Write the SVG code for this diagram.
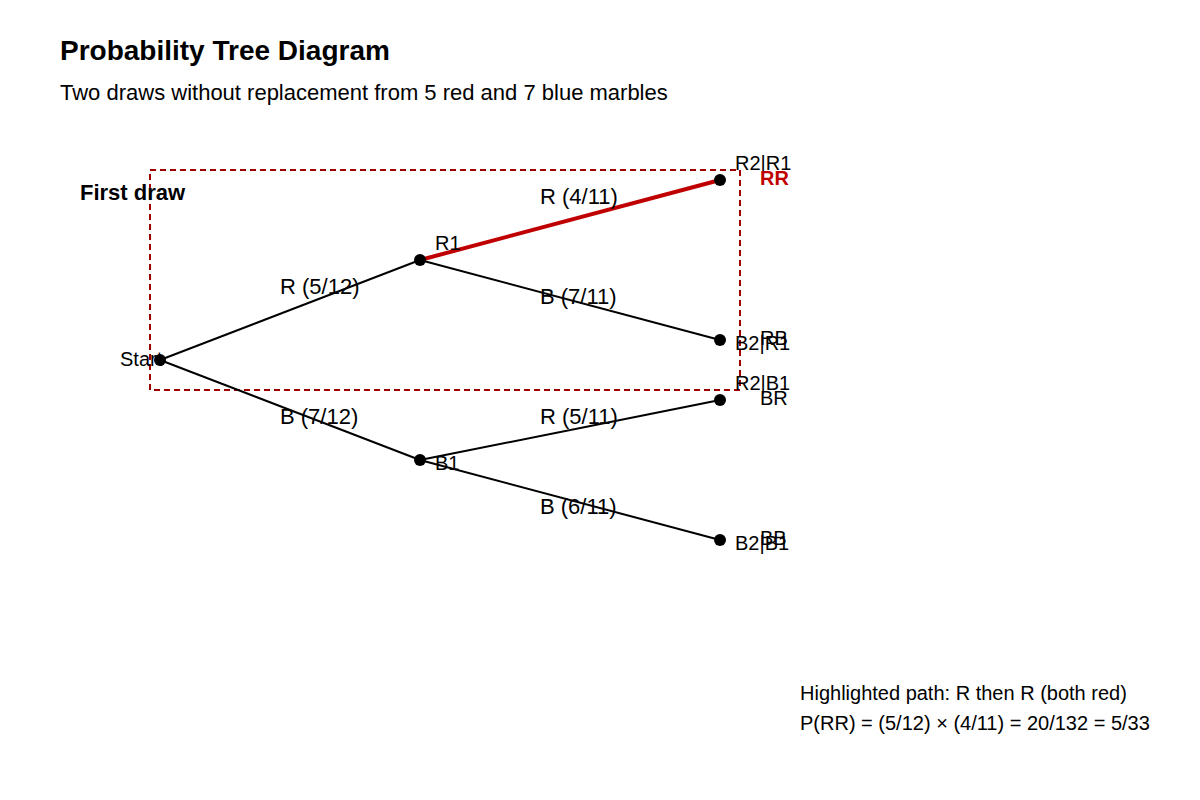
<svg xmlns="http://www.w3.org/2000/svg" width="1200" height="800" viewBox="0 0 1200 800">
<style>
text{font-family:"Liberation Sans",Arial,sans-serif;fill:#000}
.title{font-size:28px;font-weight:bold}
.sub{font-size:22px}
.lbl{font-size:20px}
.edge{font-size:22px}
.note{font-size:20px}
.e{stroke:#000;stroke-width:2;fill:none}
.hl{stroke:#c00000;stroke-width:4;fill:none}
.dot{fill:#000}
</style>
<rect width="1200" height="800" fill="#fff"/>
<text class="title" x="60" y="60">Probability Tree Diagram</text>
<text class="sub" x="60" y="100">Two draws without replacement from 5 red and 7 blue marbles</text>
<rect x="150" y="170" width="590" height="220" fill="none" stroke="#a00000" stroke-width="2" stroke-dasharray="6,4"/>
<text x="80" y="200" style="font-size:22px;font-weight:bold">First draw</text>
<g id="connectors">
<line class="e" x1="160" y1="360" x2="420" y2="260"/>
<line class="e" x1="160" y1="360" x2="420" y2="460"/>
<line class="hl" x1="420" y1="260" x2="720" y2="180"/>
<line class="e" x1="420" y1="260" x2="720" y2="340"/>
<line class="e" x1="420" y1="460" x2="720" y2="400"/>
<line class="e" x1="420" y1="460" x2="720" y2="540"/>
<text class="edge" x="280" y="294">R (5/12)</text>
<text class="edge" x="280" y="424">B (7/12)</text>
<text class="edge" x="540" y="204">R (4/11)</text>
<text class="edge" x="540" y="304">B (7/11)</text>
<text class="edge" x="540" y="424">R (5/11)</text>
<text class="edge" x="540" y="514">B (6/11)</text>
</g>
<g id="start"><circle class="dot" cx="160" cy="360" r="6"/><text class="lbl" x="120" y="366">Start</text></g>
<g id="r1"><circle class="dot" cx="420" cy="260" r="6"/><text class="lbl" x="435" y="250">R1</text></g>
<g id="b1"><circle class="dot" cx="420" cy="460" r="6"/><text class="lbl" x="435" y="470">B1</text></g>
<g id="rr"><circle class="dot" cx="720" cy="180" r="6"/><text class="lbl" x="735" y="170">R2|R1</text><text x="760" y="185" style="font-size:20px;font-weight:bold;fill:#c00000">RR</text></g>
<g id="rb"><circle class="dot" cx="720" cy="340" r="6"/><text class="lbl" x="760" y="345">RB</text><text class="lbl" x="735" y="350">B2|R1</text></g>
<g id="br"><circle class="dot" cx="720" cy="400" r="6"/><text class="lbl" x="735" y="390">R2|B1</text><text class="lbl" x="760" y="405">BR</text></g>
<g id="bb"><circle class="dot" cx="720" cy="540" r="6"/><text class="lbl" x="760" y="545">BB</text><text class="lbl" x="735" y="550">B2|B1</text></g>
<text class="note" x="800" y="700">Highlighted path: R then R (both red)</text>
<text class="note" x="800" y="730">P(RR) = (5/12) × (4/11) = 20/132 = 5/33</text>
</svg>
